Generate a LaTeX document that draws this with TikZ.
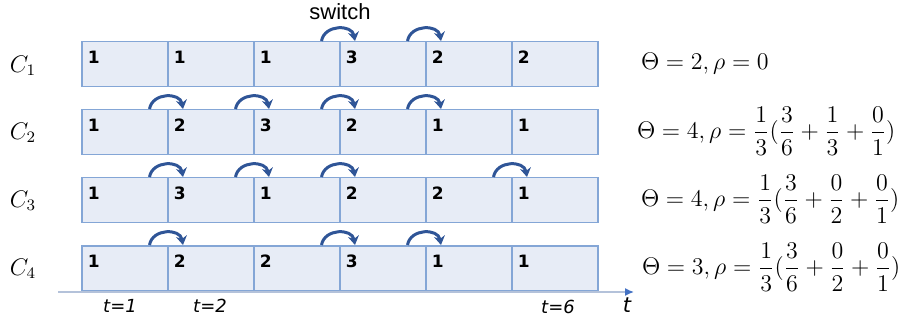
\documentclass[tikz,border=0pt]{standalone}
\usepackage{fontspec}
\usepackage{amsmath}
\usetikzlibrary{arrows.meta,positioning}
\newfontfamily\numfont{DejaVu Sans}
\newfontfamily\swfont{Liberation Sans}
\definecolor{cellfill}{RGB}{231, 236, 246}
\definecolor{celldraw}{RGB}{132, 166, 214}
\definecolor{arcblue}{RGB}{47, 85, 151}
\definecolor{axisgray}{RGB}{180, 194, 218}
\definecolor{axisblue}{RGB}{68, 114, 196}
\tikzstyle{cell} = [rectangle, draw=celldraw, line width=0.75pt, fill=cellfill, minimum width=43pt, minimum height=22.5pt, inner xsep=2.5pt, inner ysep=0pt, text width=37pt, align=left, text height=11pt, text depth=11.5pt, font=\numfont\bfseries\fontsize{8.5}{9}\selectfont]
\tikzstyle{switcharc} = [draw=arcblue, line width=1.5pt, -{Stealth[length=4.5pt,width=5.5pt]}, out=80, in=100, looseness=1.3]
\tikzstyle{axis} = [draw=axisgray, line width=0.75pt, -{Latex[length=4.5pt,width=4pt,color=axisblue]}]
\tikzstyle{rowlabel} = [font=\fontsize{12}{14}\selectfont]
\tikzstyle{formula} = [anchor=west, font=\fontsize{11.7}{14}\selectfont]
\tikzstyle{tlabel} = [font=\numfont\itshape\fontsize{9}{10}\selectfont]

\begin{document}
\begin{tikzpicture}[x=0.5pt, y=-0.5pt]
\useasboundingbox (0,0) rectangle (909,320);

% cells =============================

% C1
\node[cell, anchor=north west] (a1) at (81,41) {1};
\node[cell, right=-0.75pt of a1] (a2) {1};
\node[cell, right=-0.75pt of a2] (a3) {1};
\node[cell, right=-0.75pt of a3] (a4) {3};
\node[cell, right=-0.75pt of a4] (a5) {2};
\node[cell, right=-0.75pt of a5] (a6) {2};

% C2
\node[cell, anchor=north west] (b1) at (81,109) {1};
\node[cell, right=-0.75pt of b1] (b2) {2};
\node[cell, right=-0.75pt of b2] (b3) {3};
\node[cell, right=-0.75pt of b3] (b4) {2};
\node[cell, right=-0.75pt of b4] (b5) {1};
\node[cell, right=-0.75pt of b5] (b6) {1};

% C3
\node[cell, anchor=north west] (c1) at (81,177) {1};
\node[cell, right=-0.75pt of c1] (c2) {3};
\node[cell, right=-0.75pt of c2] (c3) {1};
\node[cell, right=-0.75pt of c3] (c4) {2};
\node[cell, right=-0.75pt of c4] (c5) {2};
\node[cell, right=-0.75pt of c5] (c6) {1};

% C4
\node[cell, anchor=north west] (d1) at (81,245) {1};
\node[cell, right=-0.75pt of d1] (d2) {2};
\node[cell, right=-0.75pt of d2] (d3) {2};
\node[cell, right=-0.75pt of d3] (d4) {3};
\node[cell, right=-0.75pt of d4] (d5) {1};
\node[cell, right=-0.75pt of d5] (d6) {1};

% labels
\node[rowlabel] (l1) at (23,66) {$C_1$};
\node[rowlabel] (l2) at (23,133) {$C_2$};
\node[rowlabel] (l3) at (23,201) {$C_3$};
\node[rowlabel] (l4) at (23,269) {$C_4$};

\node[formula] (f1) at (634,64) {$\Theta = 2, \rho = 0$};
\node[formula] (f2) at (630,131) {$\Theta = 4, \rho = \dfrac{1}{3}(\dfrac{3}{6}+\dfrac{1}{3}+\dfrac{0}{1})$};
\node[formula] (f3) at (634,199) {$\Theta = 4, \rho = \dfrac{1}{3}(\dfrac{3}{6}+\dfrac{0}{2}+\dfrac{0}{1})$};
\node[formula] (f4) at (635,267) {$\Theta = 3, \rho = \dfrac{1}{3}(\dfrac{3}{6}+\dfrac{0}{2}+\dfrac{0}{1})$};

\node[font=\swfont\fontsize{11}{12}\selectfont] (sw) at (340,12) {switch};

% time axis
\coordinate (ax0) at (58,292);
\coordinate (ax1) at (634,292);
\path[axis] (ax0) -- (ax1);
\node[tlabel] (t1) at (120,306) {t=1};
\node[tlabel] (t2) at (210,306) {t=2};
\node[tlabel] (t6) at (558,307) {t=6};
\node[tlabel, font=\numfont\itshape\fontsize{10.5}{12}\selectfont] (tt) at (627,305) {t};

% switches
\path[switcharc] ([xshift=-9.5pt]a3.north east) to ([xshift=8pt]a4.north west);
\path[switcharc] ([xshift=-9.5pt]a4.north east) to ([xshift=8pt]a5.north west);

\path[switcharc] ([xshift=-9.5pt]b1.north east) to ([xshift=8pt]b2.north west);
\path[switcharc] ([xshift=-9.5pt]b2.north east) to ([xshift=8pt]b3.north west);
\path[switcharc] ([xshift=-9.5pt]b3.north east) to ([xshift=8pt]b4.north west);
\path[switcharc] ([xshift=-9.5pt]b4.north east) to ([xshift=8pt]b5.north west);

\path[switcharc] ([xshift=-9.5pt]c1.north east) to ([xshift=8pt]c2.north west);
\path[switcharc] ([xshift=-9.5pt]c2.north east) to ([xshift=8pt]c3.north west);
\path[switcharc] ([xshift=-9.5pt]c3.north east) to ([xshift=8pt]c4.north west);
\path[switcharc] ([xshift=-9.5pt]c5.north east) to ([xshift=8pt]c6.north west);

\path[switcharc] ([xshift=-9.5pt]d1.north east) to ([xshift=8pt]d2.north west);
\path[switcharc] ([xshift=-9.5pt]d3.north east) to ([xshift=8pt]d4.north west);
\path[switcharc] ([xshift=-9.5pt]d4.north east) to ([xshift=8pt]d5.north west);

\end{tikzpicture}
\end{document}
